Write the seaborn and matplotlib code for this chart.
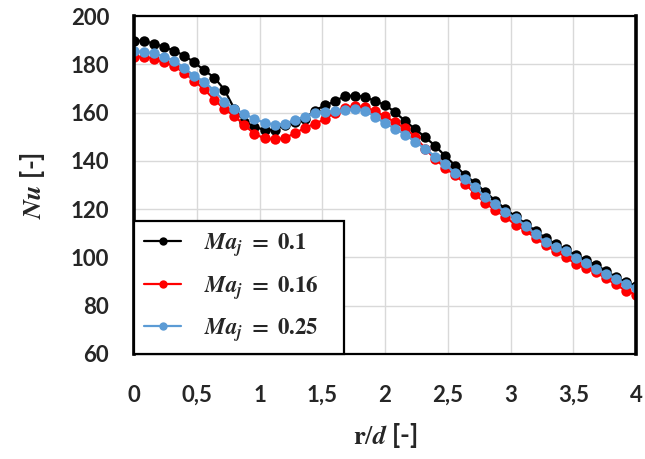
import numpy as np
import pandas as pd
import matplotlib
matplotlib.use("Agg")
import matplotlib.pyplot as plt
import seaborn as sns

# radial positions r/d (measurement stations)
r_d = [0.00, 0.08, 0.16, 0.24, 0.32, 0.40, 0.48, 0.56, 0.64, 0.72,
       0.80, 0.88, 0.96, 1.04, 1.12, 1.20, 1.28, 1.36, 1.44, 1.52,
       1.60, 1.68, 1.76, 1.84, 1.92, 2.00, 2.08, 2.16, 2.24, 2.32,
       2.40, 2.48, 2.56, 2.64, 2.72, 2.80, 2.88, 2.96, 3.04, 3.12,
       3.20, 3.28, 3.36, 3.44, 3.52, 3.60, 3.68, 3.76, 3.84, 3.92, 4.00]

nu_ma010 = [189.8, 189.7, 188.5, 187.2, 185.6, 183.6, 180.8, 177.5, 174.5, 169.5,
            161.5, 156.3, 154.1, 152.8, 152.8, 154.8, 156.2, 157.5, 160.8, 163.0,
            164.6, 166.9, 167.0, 166.6, 164.7, 163.2, 160.2, 156.5, 153.2, 149.8,
            146.2, 142.0, 138.0, 134.0, 130.8, 127.0, 123.5, 120.0, 117.0, 114.0,
            111.0, 108.0, 105.5, 103.3, 101.0, 99.0, 96.8, 94.5, 91.8, 89.8, 88.3]

nu_ma016 = [183.1, 183.1, 182.3, 180.8, 179.3, 176.4, 173.2, 169.6, 165.4, 161.4,
            158.6, 154.8, 151.2, 149.3, 148.9, 149.4, 151.4, 153.6, 155.4, 157.2,
            160.0, 162.0, 162.6, 162.3, 160.5, 158.5, 156.0, 153.5, 150.0, 145.0,
            140.8, 137.0, 134.0, 130.5, 126.2, 122.5, 119.5, 116.8, 113.5, 111.2,
            108.0, 105.2, 102.5, 100.3, 97.2, 95.5, 94.0, 91.3, 88.8, 86.2, 84.6]

nu_ma025 = [185.3, 185.2, 184.5, 183.2, 181.5, 178.5, 175.2, 172.8, 169.0, 164.5,
            161.5, 159.5, 157.3, 155.8, 155.0, 155.3, 156.9, 158.3, 160.0, 160.4,
            160.6, 161.0, 161.3, 160.8, 158.3, 155.5, 153.4, 150.8, 148.0, 145.0,
            141.8, 138.5, 135.0, 132.5, 129.0, 125.0, 122.0, 118.8, 116.3, 113.2,
            109.5, 106.3, 104.3, 102.5, 99.8, 97.5, 95.3, 93.3, 91.2, 88.8, 87.5]

series_labels = [r"$\mathbfit{Ma_j}\mathbf{\ =\ 0.1}$",
                 r"$\mathbfit{Ma_j}\mathbf{\ =\ 0.16}$",
                 r"$\mathbfit{Ma_j}\mathbf{\ =\ 0.25}$"]
colors = ["#000000", "#FF0000", "#5B9BD5"]

x_ticks = [0, 0.5, 1, 1.5, 2, 2.5, 3, 3.5, 4]
x_tick_labels = ["0", "0,5", "1", "1,5", "2", "2,5", "3", "3,5", "4"]
y_ticks = [60, 80, 100, 120, 140, 160, 180, 200]

# long form table for seaborn
df = pd.concat([
    pd.DataFrame({"r": r_d, "Nu": vals, "case": lab})
    for vals, lab in zip([nu_ma010, nu_ma016, nu_ma025], series_labels)
])

sns.set_style("white")
plt.rcParams["font.family"] = ["Lato", "DejaVu Sans"]
plt.rcParams["mathtext.fontset"] = "stix"

fig = plt.figure(figsize=(6.45, 4.59), dpi=100)
ax = fig.add_axes([134 / 645, 1 - 354 / 459, (636 - 134) / 645, (354 - 16) / 459])

sns.lineplot(data=df, x="r", y="Nu", hue="case", palette=colors,
             marker="o", markersize=7.5, markeredgewidth=0, linewidth=1.6,
             ax=ax, legend=True)

ax.set_xlim(0, 4)
ax.set_ylim(60, 200)
ax.set_xticks(x_ticks)
ax.set_xticklabels(x_tick_labels)
ax.set_yticks(y_ticks)
ax.grid(True, color="#D9D9D9", linewidth=1)
ax.set_axisbelow(True)
ax.tick_params(length=0, labelsize=16)
ax.tick_params(axis="x", pad=22)
ax.tick_params(axis="y", pad=18)
for lab in ax.get_xticklabels() + ax.get_yticklabels():
    lab.set_fontweight("bold")

for side in ["left", "right"]:
    ax.spines[side].set_linewidth(2.6)
for side in ["top", "bottom"]:
    ax.spines[side].set_linewidth(1.6)
for sp in ax.spines.values():
    sp.set_color("black")
    sp.set_visible(True)

ax.set_xlabel(r"$\mathbf{r}/\mathbfit{d}$ [-]", fontsize=19, fontweight="bold", labelpad=11)
ax.set_ylabel(r"$\mathbfit{Nu}$ [-]", fontsize=19, fontweight="bold", labelpad=17)

# legend: black square frame sitting in the lower left corner
handles, labels = ax.get_legend_handles_labels()
for h in handles:
    h.set_markersize(6)
leg = ax.legend(handles, labels, loc="lower left",
                bbox_to_anchor=(0, 0, 0.418, 0.396), mode="expand",
                borderaxespad=0, fancybox=False, framealpha=1,
                edgecolor="black", fontsize=16.5, handlelength=1.6,
                labelspacing=0.62, borderpad=0.45, handletextpad=1.0)
leg.get_frame().set_linewidth(1.6)

fig.savefig("out.png", dpi=100)
